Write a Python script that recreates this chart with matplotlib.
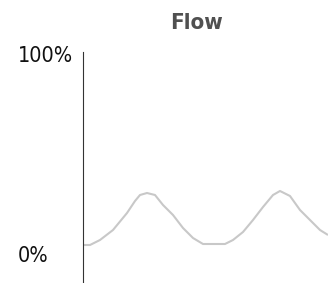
import matplotlib
matplotlib.use("Agg")
import matplotlib.pyplot as plt

title = "Flow"
time_s = [0, 7, 17, 30, 44, 52, 57, 64, 72, 80, 90, 100, 110, 120, 130, 142,
          150, 160, 170, 180, 190, 197, 207, 217, 227, 237, 245]
flow_pct = [4.5, 4.5, 7, 12, 20.5, 26.5, 29.5, 30.5, 29.5, 24.5, 19.5, 13, 8, 5, 5, 5,
            7, 11, 17, 23.5, 29.5, 31.5, 29, 22, 17, 12, 9.5]
ytick_vals = [0, 100]
ytick_labels = ["0%", "100%"]

fig = plt.figure(figsize=(3.28, 2.83), dpi=100)
ax = fig.add_axes([83/328, 0.0, 1 - 83/328, 1 - 52/283])
ax.plot(time_s, flow_pct, color="#c8c8c8", lw=1.5, solid_capstyle="butt",
        solid_joinstyle="round")
ax.set_xlim(0, 245)
ax.set_ylim(-14.5, 101)
for s in ["top", "right", "bottom"]:
    ax.spines[s].set_visible(False)
ax.spines["left"].set_color("#333333")
ax.spines["left"].set_linewidth(0.8)
ax.set_xticks([])
ax.set_yticks(ytick_vals)
ax.set_yticklabels(ytick_labels, fontsize=15.5, color="#111111",
                   family="DejaVu Sans", fontstretch="condensed", ha="left")
ax.tick_params(axis="y", length=0, pad=47)
fig.text(196/328, 1 - 23/283, title, ha="center", va="center",
         fontsize=16, fontweight="bold", color="#505050",
         family="DejaVu Sans", fontstretch="condensed")
fig.savefig("out.png", dpi=100)
